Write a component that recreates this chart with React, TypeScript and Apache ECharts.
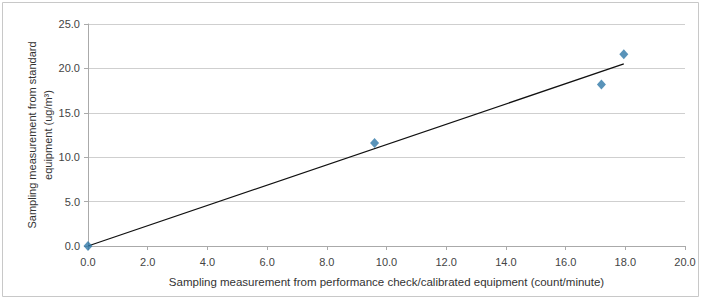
import React, { useEffect, useRef } from "react";
import * as echarts from "echarts";

const xTicks = [0, 2, 4, 6, 8, 10, 12, 14, 16, 18, 20];
const measuredX = [0, 9.6, 17.2, 17.95];
const measuredY = [0, 11.6, 18.2, 21.6];
const trendX = [0, 17.95];
const trendY = [0, 20.5];
const xTitle = "Sampling measurement from performance check/calibrated equipment (count/minute)";
const yTitle = "Sampling measurement from standard\nequipment (ug/m\u00B3)";

export default function App() {
  const ref = useRef<HTMLDivElement>(null);
  useEffect(() => {
    document.body.style.margin = "0";
    const chart = echarts.init(ref.current!, null, { renderer: "svg" });
    const font = "Liberation Sans";
    chart.setOption({
      animation: false,
      backgroundColor: "#ffffff",
      textStyle: { fontFamily: font },
      graphic: [
        {
          type: "rect",
          shape: { x: 2.5, y: 2.5, width: 696, height: 294 },
          style: { fill: "none", stroke: "#c8c8c8", lineWidth: 1 },
        },
      ],
      grid: { left: 88, right: 17, top: 24, bottom: 54, containLabel: false },
      xAxis: {
        type: "value",
        min: xTicks[0],
        max: xTicks[xTicks.length - 1],
        interval: 2,
        name: xTitle,
        nameLocation: "middle",
        nameGap: 30,
        nameMoveOverlap: false,
        nameTextStyle: { fontSize: 11.5, color: "#333", fontFamily: font },
        axisLine: { show: true, onZero: false, lineStyle: { color: "#aaaaaa" } },
        axisTick: { show: true, length: 4, inside: false, lineStyle: { color: "#aaaaaa" } },
        axisLabel: {
          fontSize: 11,
          color: "#444",
          margin: 10,
          formatter: (v: number) => v.toFixed(1),
        },
        splitLine: { show: false },
      },
      yAxis: {
        type: "value",
        min: 0,
        max: 25,
        interval: 5,
        name: yTitle,
        nameLocation: "middle",
        nameGap: 32,
        nameMoveOverlap: false,
        nameRotate: 90,
        nameTextStyle: { fontSize: 11, color: "#333", fontFamily: font, lineHeight: 16 },
        axisLine: { show: true, lineStyle: { color: "#aaaaaa" } },
        axisTick: { show: true, length: 4, lineStyle: { color: "#aaaaaa" } },
        axisLabel: {
          fontSize: 11,
          color: "#444",
          margin: 8,
          formatter: (v: number) => v.toFixed(1),
        },
        splitLine: { show: true, lineStyle: { color: "#cfcfcf", width: 1 } },
      },
      series: [
        {
          type: "line",
          data: trendX.map((x, i) => [x, trendY[i]]),
          showSymbol: false,
          symbol: "none",
          lineStyle: { color: "#111", width: 1.3 },
          z: 2,
        },
        {
          type: "scatter",
          data: measuredX.map((x, i) => [x, measuredY[i]]),
          symbol: "diamond",
          symbolSize: [9, 10],
          itemStyle: { color: "#2f78a8" },
          z: 3,
        },
      ],
    });
    return () => chart.dispose();
  }, []);
  return <div ref={ref} style={{ width: 702, height: 300 }} />;
}
